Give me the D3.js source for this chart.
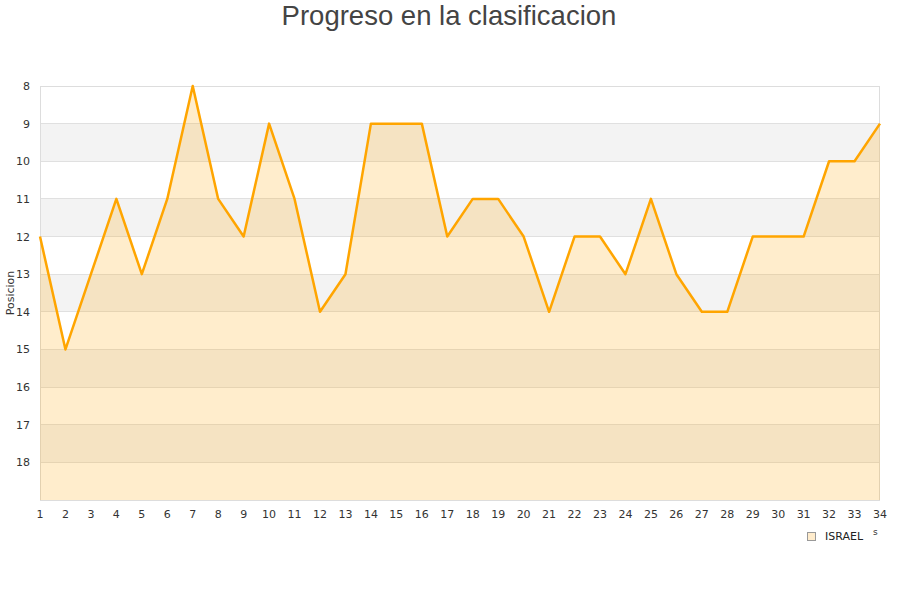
<!DOCTYPE html>
<html><head><meta charset="utf-8">
<script src="https://cdn.jsdelivr.net/npm/d3@7"></script>
<style>body{margin:0;background:#fff}</style>
</head><body>
<svg id="c" width="900" height="600"></svg>
<script>
const jornadas = d3.range(1, 35);
const posiciones = [12,15,13,11,13,11,8,11,12,9,11,14,13,9,9,9,12,11,11,12,14,12,12,13,11,13,14,14,12,12,12,10,10,9];
const yTicks = [8,9,10,11,12,13,14,15,16,17,18];
const serieNombre = "ISRAEL";
const titulo = "Progreso en la clasificacion";
const ejeY = "Posicion";

const svg = d3.select("#c");
const m = {l:40, r:880, t:86, b:500};
const x = d3.scaleLinear().domain([1,34]).range([m.l, m.r]);
const y = d3.scaleLinear().domain([8,19]).range([m.t, m.b]);

const bands = d3.range(8,19);
svg.selectAll("rect.band").data(bands).enter().append("rect")
  .attr("x", m.l).attr("width", m.r-m.l)
  .attr("y", d=>y(d)).attr("height", d=>y(d+1)-y(d))
  .attr("fill", d=> d%2===1 ? "#f3f3f3" : "#ffffff");
svg.selectAll("line.grid").data(d3.range(9,19)).enter().append("line")
  .attr("x1", m.l).attr("x2", m.r).attr("y1", d=>y(d)).attr("y2", d=>y(d))
  .attr("stroke", "#e0e0e0").attr("stroke-width",1).attr("shape-rendering","crispEdges");
svg.append("rect").attr("x", m.l+0.5).attr("y", m.t+0.5).attr("width", m.r-m.l-1).attr("height", m.b-m.t)
  .attr("fill","none").attr("stroke","#dddddd").attr("shape-rendering","crispEdges");

const area = d3.area().x((d,i)=>x(jornadas[i])).y0(y(19)).y1(d=>y(d));
svg.append("path").datum(posiciones).attr("d", area)
  .attr("fill", "#ffa500").attr("fill-opacity", 0.2);
const line = d3.line().x((d,i)=>x(jornadas[i])).y(d=>y(d));
svg.append("path").datum(posiciones).attr("d", line)
  .attr("fill","none").attr("stroke","#ffa500").attr("stroke-width",2.5).attr("stroke-linejoin","round");

const f = "DejaVu Sans, sans-serif";
svg.selectAll("text.yt").data(yTicks).enter().append("text")
  .attr("x", 30).attr("y", d=>y(d)+4).attr("text-anchor","end")
  .attr("font-family", f).attr("font-size", 11).attr("fill","#333").text(d=>d);
svg.selectAll("text.xt").data(jornadas).enter().append("text")
  .attr("x", d=>x(d)).attr("y", 518).attr("text-anchor","middle")
  .attr("font-family", f).attr("font-size", 11).attr("fill","#333").text(d=>d);

svg.append("text").attr("transform","translate(14,293) rotate(-90)")
  .attr("text-anchor","middle").attr("font-family", f).attr("font-size",11).attr("fill","#333").text(ejeY);

svg.append("text").attr("x",449).attr("y",25).attr("text-anchor","middle")
  .attr("font-family","Liberation Sans, Arial, sans-serif").attr("font-size",27.5).attr("fill","#444").text(titulo);

svg.append("rect").attr("x",807.5).attr("y",532.5).attr("width",8).attr("height",8)
  .attr("fill","#ffeccc").attr("stroke","#999");
svg.append("text").attr("x",825).attr("y",540).attr("font-family",f).attr("font-size",11).attr("fill","#222").text(serieNombre);
svg.append("text").attr("x",873).attr("y",535).attr("font-family",f).attr("font-size",9).attr("fill","#333").text("s");
</script>
</body></html>
